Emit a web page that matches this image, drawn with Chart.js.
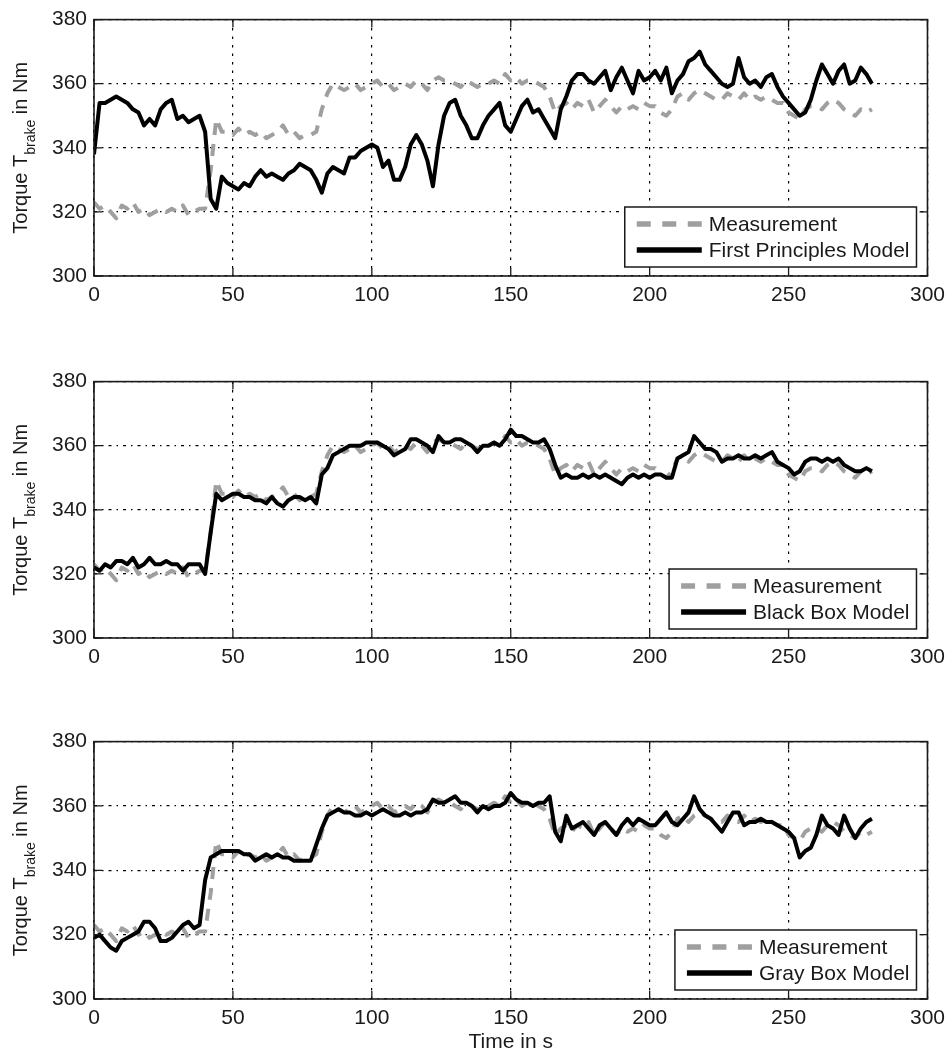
<!DOCTYPE html>
<html>
<head>
<meta charset="utf-8">
<title>Brake torque - model comparison</title>
<script src="https://cdn.jsdelivr.net/npm/chart.js@4.4.1/dist/chart.umd.min.js"></script>
<style>
  body { margin: 0; background: #fff; }
  #page { position: relative; width: 952px; height: 1057px; overflow: hidden; background: #fff; }
  #page canvas { position: absolute; left: 0; }
</style>
</head>
<body>
<div id="page">
  <canvas id="panelFP" width="952" height="320" style="top:0px"></canvas>
  <canvas id="panelBB" width="952" height="320" style="top:362px"></canvas>
  <canvas id="panelGB" width="952" height="335" style="top:722px"></canvas>
</div>

<script>
// --- DATA (2 s steps) ---
const time = [
  0, 2, 4, 6, 8, 10, 12, 14, 16, 18,
  20, 22, 24, 26, 28, 30, 32, 34, 36, 38,
  40, 42, 44, 46, 48, 50, 52, 54, 56, 58,
  60, 62, 64, 66, 68, 70, 72, 74, 76, 78,
  80, 82, 84, 86, 88, 90, 92, 94, 96, 98,
  100, 102, 104, 106, 108, 110, 112, 114, 116, 118,
  120, 122, 124, 126, 128, 130, 132, 134, 136, 138,
  140, 142, 144, 146, 148, 150, 152, 154, 156, 158,
  160, 162, 164, 166, 168, 170, 172, 174, 176, 178,
  180, 182, 184, 186, 188, 190, 192, 194, 196, 198,
  200, 202, 204, 206, 208, 210, 212, 214, 216, 218,
  220, 222, 224, 226, 228, 230, 232, 234, 236, 238,
  240, 242, 244, 246, 248, 250, 252, 254, 256, 258,
  260, 262, 264, 266, 268, 270, 272, 274, 276, 278,
  280
];

// same measurement in all three panels
const measurement = [
  323, 321, 322, 320, 318, 322, 321, 323, 320, 321,
  319, 320, 321, 320, 321, 320, 322, 319, 320, 321,
  321, 333, 349, 345, 345, 344, 346, 344, 345, 344,
  345, 343, 344, 345, 347, 344, 345, 343, 344, 344,
  345, 352, 357, 360, 359, 358, 359, 360, 358, 359,
  360, 361, 359, 360, 358, 359, 360, 359, 361, 360,
  358, 361, 362, 361, 361, 360, 359, 361, 360, 359,
  360, 360, 361, 360, 363, 361, 362, 360, 361, 361,
  360, 359, 356, 351, 353, 354, 352, 354, 353, 355,
  351, 353, 355, 353, 351, 353, 352, 353, 352, 354,
  353, 353, 351, 350, 352, 356, 357, 355, 357, 358,
  357, 356, 355, 355, 357, 356, 355, 357, 355, 356,
  355, 356, 355, 354, 354, 351, 350, 349, 352, 353,
  353, 352, 354, 355, 354, 352, 351, 350, 352, 351,
  352
];

const firstPrinciples = [
  338, 354, 354, 355, 356, 355, 354, 352, 351, 347,
  349, 347, 352, 354, 355, 349, 350, 348, 349, 350,
  345, 324, 321, 331, 329, 328, 327, 329, 328, 331,
  333, 331, 332, 331, 330, 332, 333, 335, 334, 333,
  330, 326, 332, 334, 333, 332, 337, 337, 339, 340,
  341, 340, 334, 336, 330, 330, 334, 341, 344, 341,
  336, 328, 341, 350, 354, 355, 350, 347, 343, 343,
  347, 350, 352, 354, 347, 345, 349, 353, 355, 351,
  352, 349, 346, 343, 352, 356, 361, 363, 363, 361,
  360, 362, 364, 358, 362, 365, 361, 357, 364, 361,
  362, 364, 361, 365, 357, 361, 363, 367, 368, 370,
  366, 364, 362, 360, 359, 360, 368, 362, 360, 361,
  359, 362, 363, 359, 356, 354, 352, 350, 351, 355,
  361, 366, 363, 360, 364, 366, 360, 361, 365, 363,
  360
];

const blackBox = [
  322, 321, 323, 322, 324, 324, 323, 325, 322, 323,
  325, 323, 323, 324, 323, 323, 321, 323, 323, 323,
  320, 333, 345, 343, 344, 345, 345, 344, 344, 343,
  343, 342, 344, 342, 341, 343, 344, 344, 343, 344,
  342, 351, 353, 357, 358, 359, 360, 360, 360, 361,
  361, 361, 360, 359, 357, 358, 359, 362, 362, 361,
  360, 358, 363, 361, 361, 362, 362, 361, 360, 358,
  360, 360, 361, 360, 362, 365, 363, 363, 362, 361,
  361, 362, 359, 354, 350, 351, 350, 350, 351, 350,
  351, 350, 351, 350, 349, 348, 350, 351, 350, 351,
  350, 351, 351, 350, 350, 356, 357, 358, 363, 361,
  359, 359, 358, 355, 356, 356, 357, 356, 356, 357,
  356, 357, 358, 355, 354, 353, 351, 352, 355, 356,
  356, 355, 356, 355, 356, 354, 353, 352, 352, 353,
  352
];

const grayBox = [
  319, 320, 318, 316, 315, 318, 319, 320, 321, 324,
  324, 322, 318, 318, 319, 321, 323, 324, 322, 323,
  337, 344, 345, 346, 346, 346, 346, 345, 345, 343,
  344, 345, 344, 345, 344, 344, 343, 343, 343, 343,
  348, 353, 357, 358, 359, 358, 358, 357, 357, 358,
  357, 358, 359, 358, 357, 357, 358, 357, 358, 358,
  359, 362, 361, 361, 362, 363, 361, 361, 360, 358,
  360, 359, 360, 360, 361, 364, 362, 361, 361, 360,
  361, 361, 363, 352, 349, 357, 353, 354, 355, 353,
  351, 354, 355, 353, 351, 354, 356, 354, 356, 355,
  354, 354, 356, 358, 355, 354, 356, 358, 363, 359,
  357, 356, 354, 352, 355, 358, 358, 354, 355, 355,
  356, 355, 355, 354, 353, 352, 350, 344, 346, 347,
  351, 357, 354, 353, 351, 357, 353, 350, 353, 355,
  356
];

const xTicks = [0, 50, 100, 150, 200, 250, 300];
const yTicks = [300, 320, 340, 360, 380];

const Plot = {
    font: '"Liberation Sans", Arial, Helvetica, sans-serif',
    ink: '#1a1a1a',
    gray: '#9f9f9f',

    init() {
        this.panel('panelFP', firstPrinciples, 'First Principles Model', 259, false);
        this.panel('panelBB', blackBox, 'Black Box Model', 259, false);
        this.panel('panelGB', grayBox, 'Gray Box Model', 260, true);
    },

    points(values) {
        return time.map((t, i) => ({ x: t, y: values[i] }));
    },

    // matlab-ish box, inward ticks, y title with subscript, legend
    framePlugin: {
        id: 'matlabFrame',
        afterDraw(chart) {
            const { ctx, chartArea: a, scales } = chart;
            ctx.save();
            ctx.setLineDash([]);
            ctx.strokeStyle = Plot.ink;
            ctx.lineWidth = 1.3;
            ctx.beginPath();
            scales.x.ticks.forEach(t => {
                const px = scales.x.getPixelForValue(t.value);
                ctx.moveTo(px, a.bottom); ctx.lineTo(px, a.bottom - 8);
                ctx.moveTo(px, a.top); ctx.lineTo(px, a.top + 8);
            });
            scales.y.ticks.forEach(t => {
                const py = scales.y.getPixelForValue(t.value);
                ctx.moveTo(a.left, py); ctx.lineTo(a.left + 8, py);
                ctx.moveTo(a.right, py); ctx.lineTo(a.right - 8, py);
            });
            ctx.stroke();
            ctx.lineWidth = 1.6;
            ctx.strokeRect(a.left, a.top, a.right - a.left, a.bottom - a.top);
            ctx.restore();

            Plot.drawYTitle(ctx, a);
            Plot.drawLegend(chart);
        }
    },

    drawYTitle(ctx, a) {
        const big = '20px ' + this.font, small = '14px ' + this.font;
        ctx.save();
        ctx.translate(27, (a.top + a.bottom) / 2);
        ctx.rotate(-Math.PI / 2);
        ctx.fillStyle = this.ink;
        ctx.textBaseline = 'alphabetic';
        ctx.textAlign = 'left';
        ctx.font = big;
        const w1 = ctx.measureText('Torque T').width;
        const w3 = ctx.measureText(' in Nm').width;
        ctx.font = small;
        const w2 = ctx.measureText('brake').width;
        let x = -(w1 + w2 + w3) / 2;
        ctx.font = big; ctx.fillText('Torque T', x, 0); x += w1;
        ctx.font = small; ctx.fillText('brake', x, 8); x += w2;
        ctx.font = big; ctx.fillText(' in Nm', x, 0);
        ctx.restore();
    },

    drawLegend(chart) {
        const { ctx, chartArea: a } = chart;
        const sets = chart.data.datasets;
        ctx.save();
        ctx.font = '21px ' + this.font;
        const textW = Math.max(...sets.map(d => ctx.measureText(d.label).width));
        const w = 12 + 65 + 7 + textW + 7, h = 60;
        const x = a.right - 11 - w, y = a.bottom - 9 - h;

        ctx.fillStyle = '#fff';
        ctx.fillRect(x, y, w, h);
        ctx.strokeStyle = this.ink;
        ctx.lineWidth = 1.5;
        ctx.setLineDash([]);
        ctx.strokeRect(x, y, w, h);

        sets.forEach((d, i) => {
            const cy = y + 17 + i * 26;
            ctx.beginPath();
            ctx.setLineDash(d.borderDash && d.borderDash.length ? [14, 11.5] : []);
            ctx.strokeStyle = d.borderColor;
            ctx.lineWidth = 5.5;
            ctx.lineCap = 'butt';
            ctx.moveTo(x + 12, cy);
            ctx.lineTo(x + 77, cy);
            ctx.stroke();
            ctx.setLineDash([]);
            ctx.fillStyle = this.ink;
            ctx.textBaseline = 'middle';
            ctx.textAlign = 'left';
            ctx.fillText(d.label, x + 84, cy + 1);
        });
        ctx.restore();
    },

    panel(id, model, label, plotH, withXTitle) {
        const canvas = document.getElementById(id);
        const axisH = canvas.height - 17 - plotH;
        const tickFont = { family: this.font, size: 21 };

        new Chart(canvas, {
            type: 'line',
            data: {
                datasets: [
                    {
                        label: 'Measurement',
                        data: this.points(measurement),
                        borderColor: this.gray,
                        borderWidth: 4,
                        borderDash: [12, 9],
                        borderJoinStyle: 'round',
                        pointRadius: 0,
                        tension: 0,
                        order: 1
                    },
                    {
                        label: label,
                        data: this.points(model),
                        borderColor: '#000',
                        borderWidth: 4,
                        borderJoinStyle: 'round',
                        pointRadius: 0,
                        tension: 0,
                        order: 0
                    }
                ]
            },
            options: {
                responsive: false,
                animation: false,
                events: [],
                layout: { padding: { top: 17, right: 21, bottom: 0, left: 0 } },
                plugins: { legend: { display: false }, tooltip: { enabled: false } },
                scales: {
                    x: {
                        type: 'linear',
                        min: xTicks[0],
                        max: xTicks[xTicks.length - 1],
                        afterBuildTicks: s => { s.ticks = xTicks.map(v => ({ value: v })); },
                        afterFit: s => { s.height = axisH; },
                        grid: { color: '#000', lineWidth: 1.2, drawTicks: false, borderDash: [2.5, 6] },
                        border: { display: false, dash: [2.5, 6] },
                        ticks: { font: tickFont, color: this.ink, padding: 7, maxRotation: 0 },
                        title: {
                            display: withXTitle,
                            text: 'Time in s',
                            font: tickFont,
                            color: this.ink,
                            padding: { top: 0, bottom: 2 }
                        }
                    },
                    y: {
                        min: yTicks[0],
                        max: yTicks[yTicks.length - 1],
                        afterBuildTicks: s => { s.ticks = yTicks.map(v => ({ value: v })); },
                        afterFit: s => { s.width = 94; },
                        grid: { color: '#000', lineWidth: 1.2, drawTicks: false, borderDash: [3, 5, 1.5, 5] },
                        border: { display: false, dash: [3, 5, 1.5, 5] },
                        ticks: { font: tickFont, color: this.ink, padding: 7 }
                    }
                }
            },
            plugins: [this.framePlugin]
        });
    }
};

// Start
Plot.init();
</script>
</body>
</html>
